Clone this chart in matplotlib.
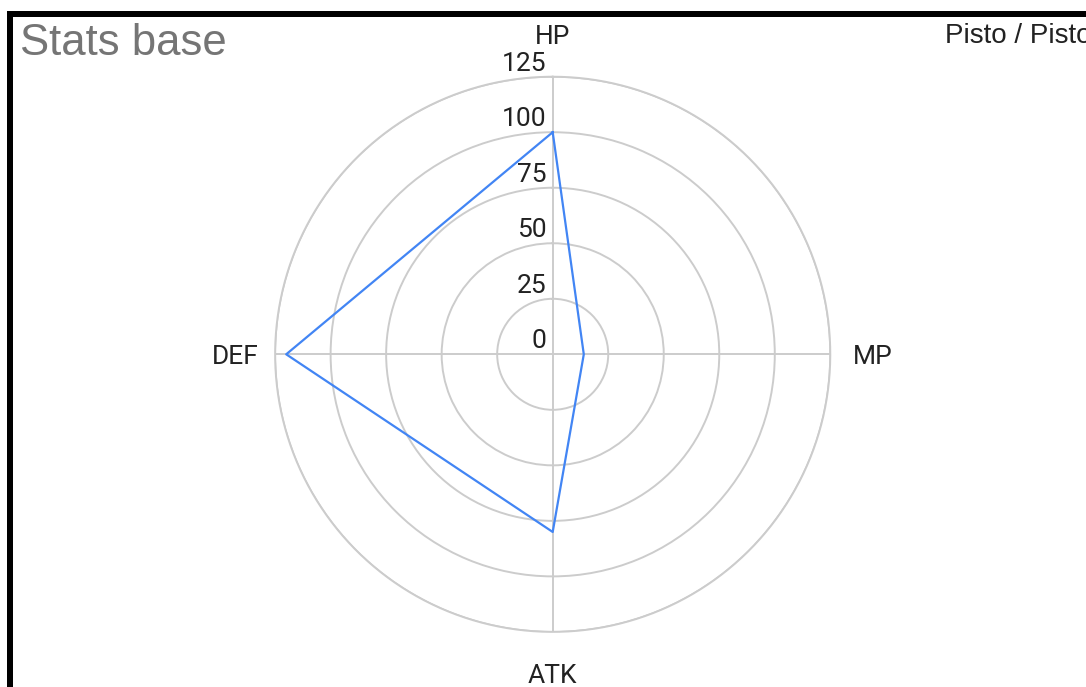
import numpy as np
import matplotlib
matplotlib.use('Agg')
import matplotlib.pyplot as plt
from matplotlib.patches import Rectangle

plt.rcParams['font.family'] = ['Roboto', 'DejaVu Sans']

# data
categories = ['HP', 'MP', 'ATK', 'DEF']
values = [100, 14, 80, 120]
ring_ticks = [0, 25, 50, 75, 100, 125]
title = 'Stats base'
series_name = 'Pisto / Pisto'

W, H = 1086, 687
fig = plt.figure(figsize=(W / 100, H / 100), dpi=100)

# polar axes placed so the center sits at (553, 354) px and r=125 is 277.6 px
cx, cy, rad = 552.7, 354.3, 277.6
ax = fig.add_axes([(cx - rad) / W, (H - cy - rad) / H, 2 * rad / W, 2 * rad / H],
                  projection='polar')
ax.set_theta_zero_location('N')
ax.set_theta_direction(-1)
ax.set_ylim(0, 125)

theta = np.arange(len(categories)) * 2 * np.pi / len(categories)
ax.set_xticks(theta)
ax.set_xticklabels([])
ax.set_yticks(ring_ticks)
ax.set_yticklabels([])
ax.grid(True, color='#cccccc', linewidth=1.4)
ax.spines['polar'].set_visible(False)
ax.patch.set_alpha(0)

# outer ring
tt = np.linspace(0, 2 * np.pi, 400)
ax.plot(tt, np.full_like(tt, 125), color='#cccccc', lw=1.4, zorder=1, clip_on=False)

# series
th = np.append(theta, theta[0])
vv = np.append(values, values[0])
ax.plot(th, vv, color='#4285f4', lw=1.6, zorder=3, clip_on=False)

# radial tick labels, left of the top spoke
for v in ring_ticks:
    ax.annotate(str(v), xy=(0, v), xytext=(-4.3, 4.3), textcoords='offset points',
                ha='right', va='baseline', fontsize=19, color='#222222',
                annotation_clip=False)

# category labels
offsets = {
    'HP': ((0, 23.8), 'center', 'baseline'),
    'MP': ((16.6, 0), 'left', 'center_baseline'),
    'ATK': ((0, -36.7), 'center', 'baseline'),
    'DEF': ((-12.2, 0), 'right', 'center_baseline'),
}
for t, c in zip(theta, categories):
    off, ha, va = offsets[c]
    ax.annotate(c, xy=(t, 125), xytext=off, textcoords='offset points',
                ha=ha, va=va, fontsize=19, color='#222222', annotation_clip=False)

# title and series name
fig.text(20 / W, 1 - 55 / H, title, fontsize=31.5, color='#757575',
         ha='left', va='baseline', family=['Liberation Sans', 'DejaVu Sans'])
fig.text(945 / W, 1 - 43 / H, series_name, fontsize=20, color='#222222',
         ha='left', va='baseline', family=['Liberation Sans', 'DejaVu Sans'])

# black frame on top and left
fig.add_artist(Rectangle((7 / W, 1 - 17 / H), 1, 6 / H, transform=fig.transFigure,
                         color='black', lw=0))
fig.add_artist(Rectangle((7 / W, 0), 6 / W, (H - 11) / H, transform=fig.transFigure,
                         color='black', lw=0))

fig.savefig('out.png', dpi=100)
